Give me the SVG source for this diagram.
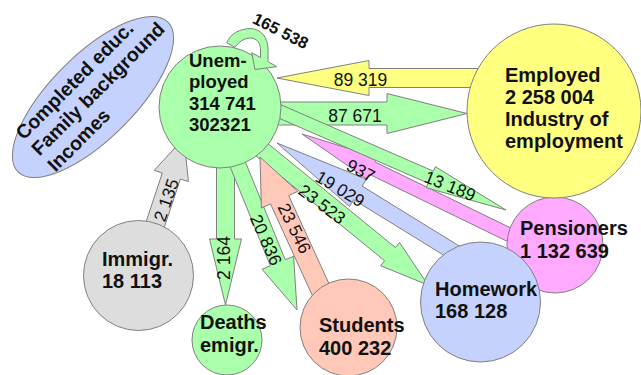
<svg xmlns="http://www.w3.org/2000/svg" width="641" height="375" viewBox="0 0 641 375">
<style>
.n{stroke:#808080;stroke-width:1}
.a{stroke:#808080;stroke-width:1;stroke-linejoin:round}
.g{fill:#aaffaa}
.y{fill:#ffff80}
.p{fill:#ffaaff}
.b{fill:#c6d2fe}
.s{fill:#ffc8b8}
.gr{fill:#dddddd}
.t{font-family:"Liberation Sans",Arial,sans-serif;font-weight:bold;font-size:20px;fill:#111}
.l{font-family:"Liberation Sans",Arial,sans-serif;font-size:17.5px;fill:#111;text-anchor:middle}
</style>
<rect width="641" height="375" fill="#ffffff"/>
<g id="connectors">
<polygon class="a gr" points="159,243 180.4,179 188.4,181.6 184,138 154.3,170.3 162.3,173 141,237"/>
<polygon class="a g" points="216.5,160 216.5,239 209.5,239 225.5,305 241.5,239 234.5,239 234.5,160"/>
<polygon class="a g" points="228.6,163 270.4,265.8 262,269.2 297,310 293.6,256.3 285.2,259.7 243.4,157"/>
<polygon class="a g" points="244.6,146.6 384.6,260.7 380.5,265.7 428,285 399.5,242.5 395.4,247.5 255.4,133.4"/>
<polygon class="a g" points="270,125 387,125 387,133.5 467,113.5 387,93.5 387,102 270,102"/>
<polygon class="a y" points="480,68.5 369,68.5 369,60.5 277,78 369,95.5 369,87.5 480,87.5"/>
<polygon class="a b" points="474.2,255.2 362.1,186.1 366.3,179.3 277,143 349.5,206.5 353.7,199.7 465.8,268.8"/>
<polygon class="a p" points="523,233.9 375.1,162 377.3,157.3 302,134 366.9,178.9 369.1,174.2 517,246.1"/>
<polygon class="a g" points="269.4,114 428.2,183.2 426.2,187.7 506,210 435.4,166.7 433.4,171.2 274.6,102"/>
<polygon class="a s" points="339.1,305.8 288.7,195.5 297.8,191.4 260,157 261.4,208 270.5,203.9 320.9,314.2"/>
<text class="l" x="360.5" y="86">89 319</text>
<text class="l" x="355" y="122">87 671</text>
<text class="l" transform="translate(447.8,191.6) rotate(22)">13 189</text>
<text class="l" transform="translate(358,176) rotate(27)">937</text>
<text class="l" transform="translate(337,194) rotate(31)">19 029</text>
<text class="l" transform="translate(318.5,209) rotate(37)">23 523</text>
<text class="l" transform="translate(289,231) rotate(64)">23 546</text>
<text class="l" transform="translate(260.5,242.4) rotate(66)">20 836</text>
<text class="l" transform="translate(230,258) rotate(-90)">2 164</text>
<text class="l" transform="translate(172,202) rotate(-71)">2 135</text>
</g>
<g id="node-background">
<ellipse class="n b" cx="93" cy="97" rx="106" ry="42" transform="rotate(-45 93 97)"/>
<text class="t" style="font-size:19.5px" transform="translate(93,97) rotate(-45)"><tspan x="-80" y="-18">Completed educ.</tspan><tspan x="-80" y="4.5">Family background</tspan><tspan x="-80" y="27">Incomes</tspan></text>
</g>
<g id="node-immigr">
<circle class="n gr" cx="138.5" cy="275.5" r="55"/>
<text class="t"><tspan x="102" y="266">Immigr.</tspan><tspan x="102" y="288">18 113</tspan></text>
</g>
<g id="node-deaths">
<circle class="n g" cx="227" cy="340" r="35"/>
<text class="t"><tspan x="200" y="329">Deaths</tspan><tspan x="200" y="352">emigr.</tspan></text>
</g>
<g id="node-students">
<circle class="n s" cx="348.5" cy="327.5" r="48.5"/>
<text class="t"><tspan x="319" y="332">Students</tspan><tspan x="319" y="355">400 232</tspan></text>
</g>
<g id="node-pensioners">
<circle class="n p" cx="555" cy="245" r="48"/>
<text class="t"><tspan x="520" y="235">Pensioners</tspan><tspan x="520" y="258">1 132 639</tspan></text>
</g>
<g id="node-employed">
<circle class="n y" cx="554" cy="111" r="87"/>
<text class="t"><tspan x="505" y="82">Employed</tspan><tspan x="505" y="104">2 258 004</tspan><tspan x="505" y="126">Industry of</tspan><tspan x="505" y="148">employment</tspan></text>
</g>
<g id="node-homework">
<circle class="n b" cx="480.5" cy="302" r="60"/>
<text class="t"><tspan x="435" y="296">Homework</tspan><tspan x="435" y="318">168 128</tspan></text>
</g>
<g id="node-unemployed">
<circle class="n g" cx="220" cy="107" r="61"/>
<text class="t" style="font-size:18.5px"><tspan x="189" y="67">Unem-</tspan><tspan x="189" y="88">ployed</tspan><tspan x="189" y="110">314 741</tspan><tspan x="189" y="131">302321</tspan></text>
</g>
<g id="connector-loop">
<path class="a g" d="M226.7,42.7 C231,33 240,29 250,28.5 C262,29 268,38 268,50 L268,61.5 L276.7,66.7 L255,69.5 L251.7,52.7 L260.5,57.5 L260.5,50 C260.5,43 257,38.5 251,38 C244,38 239,41.5 235,47.3 Z"/>
<text class="l" style="font-weight:bold;font-size:16.5px" transform="translate(278,36) rotate(27)">165 538</text>
</g>
</svg>
